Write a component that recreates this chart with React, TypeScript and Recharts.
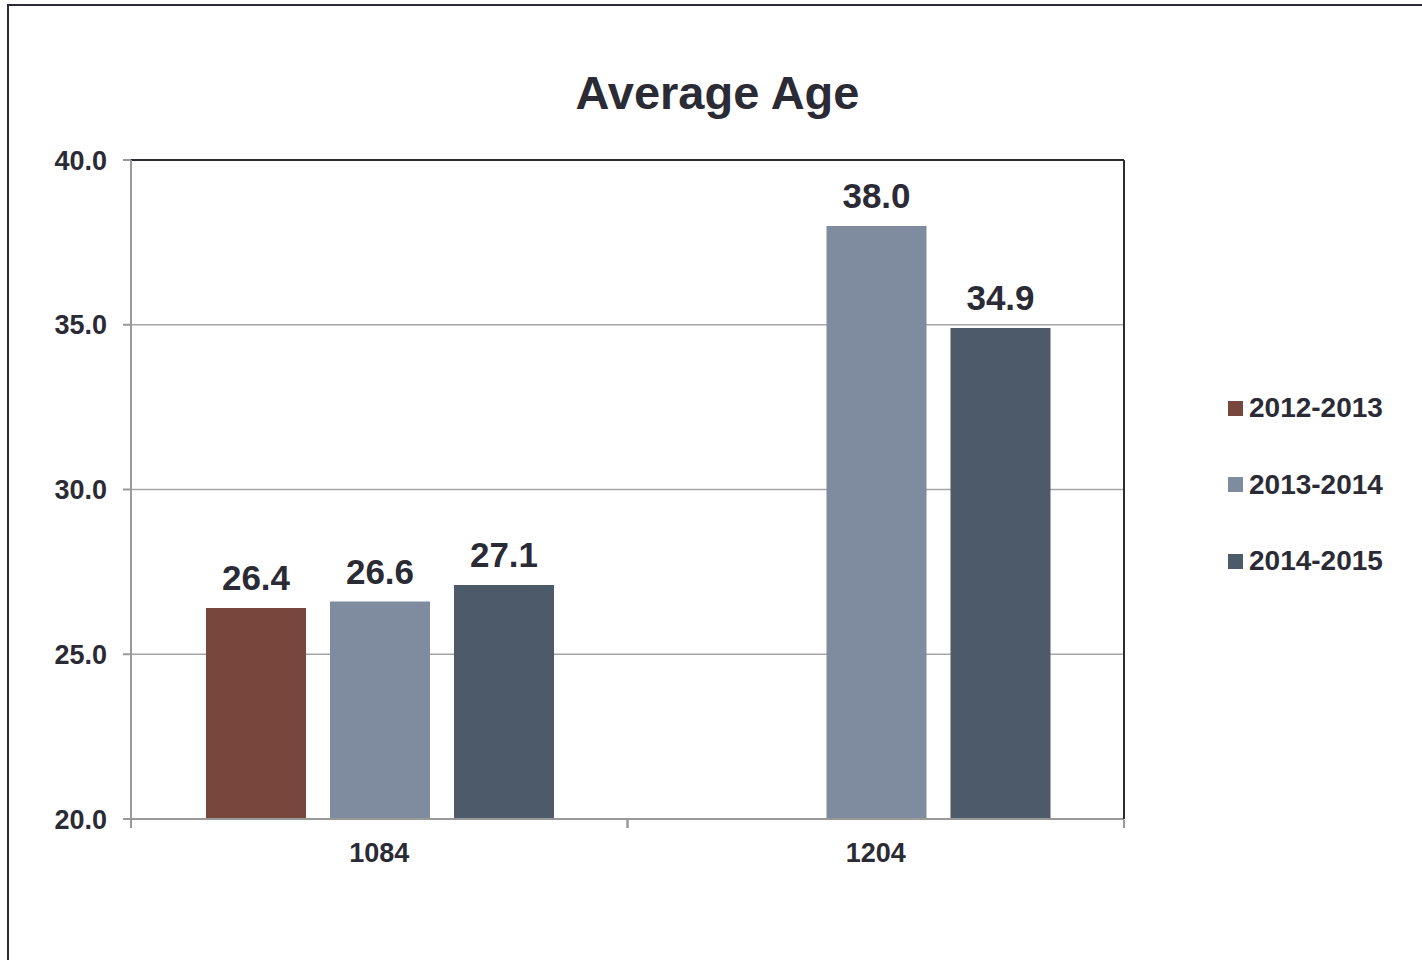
import React from "react";
import { Bar, BarChart, CartesianGrid, LabelList, ReferenceLine, XAxis, YAxis } from "recharts";

const groups = ["1084", "1204"];
const seasons = ["2012-2013", "2013-2014", "2014-2015"];
const s2012: (number | null)[] = [26.4, null];
const s2013: (number | null)[] = [26.6, 38.0];
const s2014: (number | null)[] = [27.1, 34.9];
const yTicks = [20, 25, 30, 35, 40];
const colors = ["#78463C", "#7F8B9E", "#4D5A6A"];

const ink = "#2b2b36";
const font = "'Liberation Sans', Arial, sans-serif";

const data = groups.map((g, i) => ({ group: g, a: s2012[i], b: s2013[i], c: s2014[i] }));
const keys = ["a", "b", "c"];

const fmt = (v: any) => (v == null ? "" : Number(v).toFixed(1));

const LABEL_GAP = 24;

// category label plus tick marks on both edges of its band
const CatTick = (p: any) => {
  const half = p.payload?.offset ?? 0;
  const cx = p.payload?.coordinate ?? p.x;
  const axisY = p.y - LABEL_GAP;
  return (
    <g>
      {half > 0 && (
        <>
          <line x1={cx - half} x2={cx - half} y1={axisY + 1} y2={axisY + 9} stroke="#999" strokeWidth={2} />
          <line x1={cx + half} x2={cx + half} y1={axisY + 1} y2={axisY + 9} stroke="#999" strokeWidth={2} />
        </>
      )}
      <text
        x={p.x}
        y={p.y}
        dy="0.71em"
        textAnchor="middle"
        fill={ink}
        fontSize={27}
        fontWeight="bold"
        fontFamily={font}
      >
        {p.payload?.value}
      </text>
    </g>
  );
};

export default function App() {
  return (
    <div style={{ position: "absolute", left: 0, top: 0, width: 1422, height: 960, background: "#fff", fontFamily: font }}>
      <div
        style={{
          position: "absolute",
          left: 7,
          top: 4,
          width: 1415,
          height: 956,
          boxSizing: "border-box",
          borderLeft: `2px solid ${ink}`,
          borderTop: `2px solid ${ink}`,
        }}
      />
      <div
        style={{
          position: "absolute",
          left: 0,
          width: 1435,
          top: 65,
          textAlign: "center",
          fontSize: 47,
          fontWeight: "bold",
          color: ink,
        }}
      >
        Average Age
      </div>
      <div style={{ position: "absolute", left: 0, top: 0 }}>
        <BarChart
          width={1422}
          height={960}
          data={data}
          margin={{ top: 160, right: 296, bottom: 81, left: 8 }}
          barCategoryGap={75}
          barGap={24}
        >
          <CartesianGrid vertical={false} stroke="#a6a6a6" strokeWidth={1.5} />
          <XAxis
            dataKey="group"
            height={60}
            axisLine={{ stroke: "#999", strokeWidth: 2 }}
            tickLine={false}
            tickSize={0}
            tickMargin={LABEL_GAP}
            interval={0}
            tick={CatTick}
          />
          <YAxis
            domain={[20, 40]}
            ticks={yTicks}
            width={123}
            axisLine={{ stroke: "#999", strokeWidth: 2 }}
            tickLine={{ stroke: "#999", strokeWidth: 2 }}
            tickSize={8}
            tickMargin={16}
            tickFormatter={(v: number) => v.toFixed(1)}
            tick={{ fill: ink, fontSize: 27, fontWeight: "bold", fontFamily: font }}
          />
          <YAxis
            yAxisId="right"
            orientation="right"
            domain={[20, 40]}
            allowDataOverflow
            width={2}
            tick={false}
            tickLine={false}
            axisLine={{ stroke: ink, strokeWidth: 2 }}
          />
          <ReferenceLine y={40} stroke={ink} strokeWidth={2} />
          {keys.map((k, i) => (
            <Bar key={k} dataKey={k} name={seasons[i]} fill={colors[i]} isAnimationActive={false}>
              <LabelList
                dataKey={k}
                position="top"
                offset={18}
                formatter={fmt}
                style={{ fill: ink, fontSize: 35, fontWeight: "bold", fontFamily: font }}
              />
            </Bar>
          ))}
        </BarChart>
      </div>
      {seasons.map((s, i) => (
        <div
          key={s}
          style={{
            position: "absolute",
            left: 1228,
            top: 392 + i * 76.5,
            height: 32,
            display: "flex",
            alignItems: "center",
            fontSize: 28,
            fontWeight: "bold",
            color: ink,
          }}
        >
          <span style={{ display: "inline-block", width: 15, height: 15, background: colors[i], marginRight: 6 }} />
          {s}
        </div>
      ))}
    </div>
  );
}
